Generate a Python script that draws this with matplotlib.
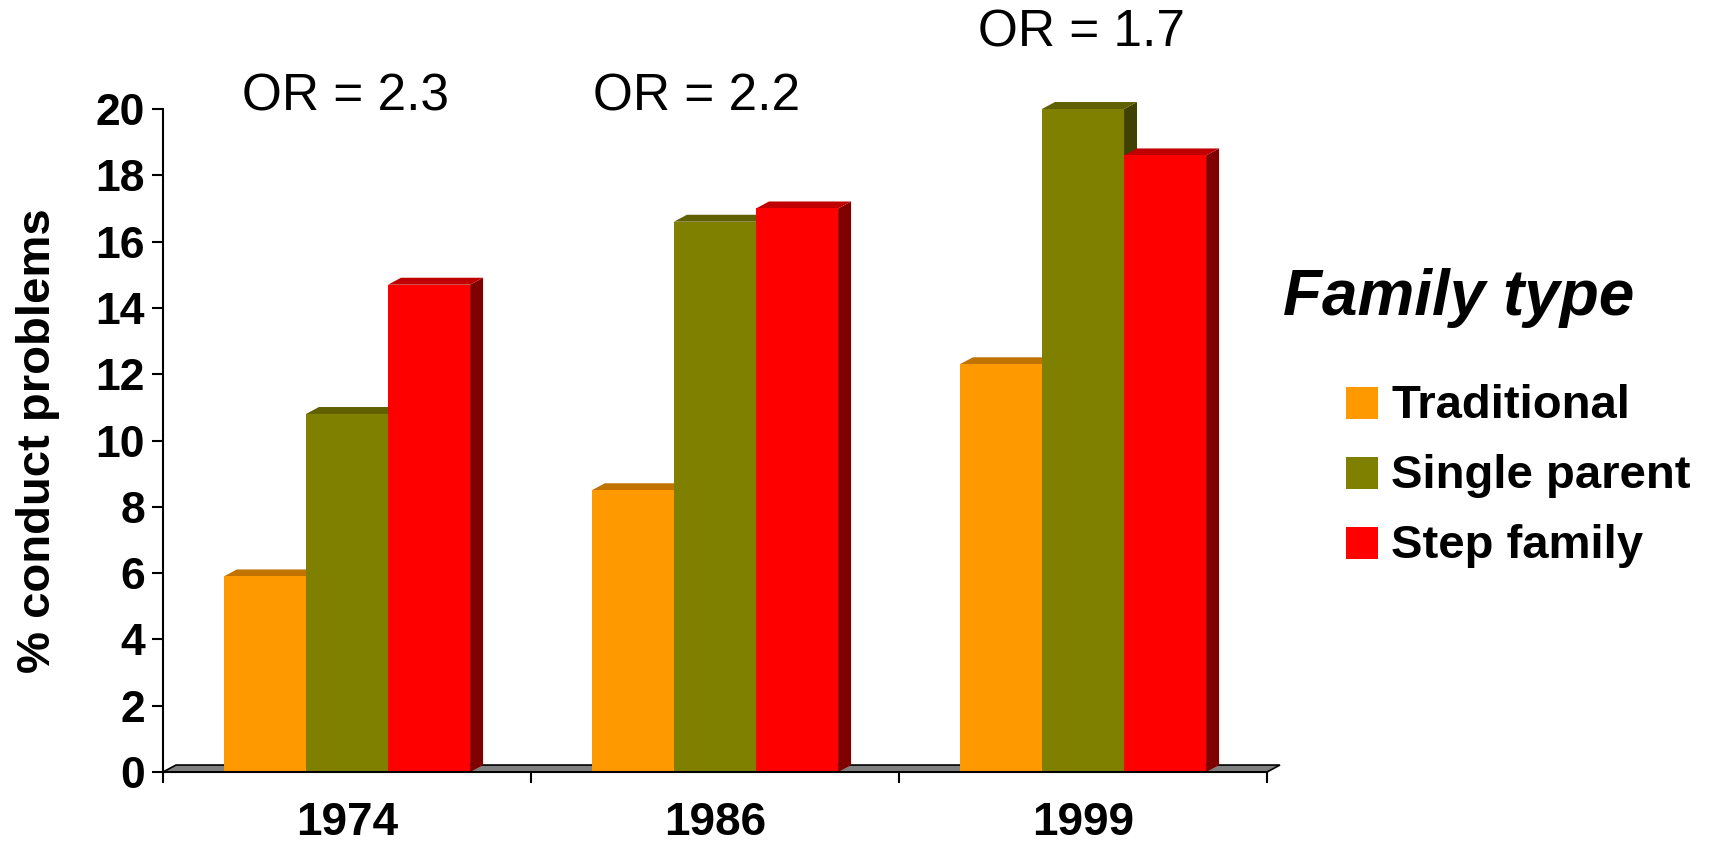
import numpy as np
import matplotlib
matplotlib.use("Agg")
import matplotlib.pyplot as plt
from matplotlib.patches import Polygon, Rectangle

plt.rcParams['font.family'] = ['Liberation Sans', 'Arial', 'DejaVu Sans']

# data
years = ['1974', '1986', '1999']
series = ['Traditional', 'Single parent', 'Step family']
traditional = [5.9, 8.5, 12.3]
single_parent = [10.8, 16.6, 20.0]
step_family = [14.7, 17.0, 18.6]
odds_ratios = [2.3, 2.2, 1.7]

values = [traditional, single_parent, step_family]
front = ['#FF9900', '#808000', '#FF0000']
top = ['#C07300', '#606000', '#C00000']
side = ['#7F4C00', '#404000', '#800000']

fig = plt.figure(figsize=(17.18, 8.43), dpi=100)
ax = fig.add_axes([163/1718, 1 - 772/843, 1104/1718, 663/843])

w = 0.223      # bar width (category = 1)
ddx = 0.0353   # depth offset, x
ddy = 0.21     # depth offset, y
n = len(years)

# floor
floor = Polygon([(0, 0), (n, 0), (n + ddx, ddy), (ddx, ddy)], closed=True,
                facecolor='#808080', edgecolor='black', lw=1.2, clip_on=False, zorder=1)
ax.add_patch(floor)

for g in range(n):
    for s in range(len(series)):
        h = values[s][g]
        x0 = g + 0.5 - 1.5 * w + s * w
        x1 = x0 + w
        ax.add_patch(Polygon([(x1, 0), (x1 + ddx, ddy), (x1 + ddx, h + ddy), (x1, h)],
                             closed=True, facecolor=side[s], edgecolor='none',
                             clip_on=False, zorder=2))
        ax.add_patch(Polygon([(x0, h), (x0 + ddx, h + ddy), (x1 + ddx, h + ddy), (x1, h)],
                             closed=True, facecolor=top[s], edgecolor='none',
                             clip_on=False, zorder=2))
        ax.add_patch(Rectangle((x0, 0), w, h, facecolor=front[s], edgecolor='none',
                               clip_on=False, zorder=2))

ax.set_xlim(0, n)
ax.set_ylim(0, 20)
ax.set_yticks(np.arange(0, 21, 2))
ax.set_yticklabels([str(v) for v in range(0, 21, 2)], fontsize=32, fontweight='bold')
ax.set_xticks(np.arange(0, n + 1))
ax.set_xticklabels([])
ax.set_xticks(np.arange(n) + 0.5, minor=True)
ax.set_xticklabels(years, minor=True, fontsize=33, fontweight='bold')
ax.tick_params(axis='x', which='minor', length=0, pad=21)
ax.tick_params(axis='both', which='major', direction='out', length=8, width=1.5, pad=5)

for sp in ['top', 'right']:
    ax.spines[sp].set_visible(False)
ax.spines['left'].set_linewidth(1.5)
ax.spines['bottom'].set_linewidth(1.5)
ax.spines['left'].set_zorder(3)
ax.spines['bottom'].set_zorder(3)

ax.set_ylabel('% conduct problems', fontsize=34, fontweight='bold')
ax.yaxis.set_label_coords(-0.093, 0.5)

# odds ratio labels
or_pos = [(0.495, 20.35), (1.45, 20.35), (2.495, 22.3)]
for r, (xp, yp) in zip(odds_ratios, or_pos):
    ax.text(xp, yp, 'OR = %.1f' % r, fontsize=37, ha='center', va='center', clip_on=False)

# legend
fig.text(1283/1718, 1 - 315/843, 'Family type', fontsize=46, fontweight='bold',
         fontstyle='italic', ha='left', va='baseline')
for i, (name, c) in enumerate(zip(series, front)):
    yc = 403 + 70 * i
    fig.patches.append(Rectangle((1346/1718, 1 - (yc + 16)/843), 32/1718, 32/843,
                                 facecolor=c, edgecolor='none', transform=fig.transFigure))
    fig.text(1391/1718, 1 - (yc + 15)/843, name, fontsize=34, fontweight='bold',
             ha='left', va='baseline')

fig.savefig('out.png', dpi=100, facecolor='white')
